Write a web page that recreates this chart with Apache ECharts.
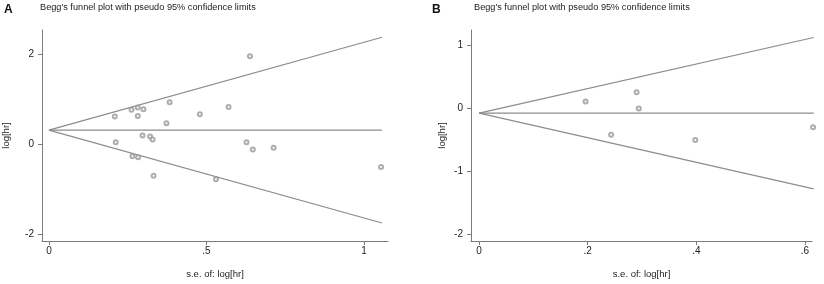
<!DOCTYPE html>
<html>
<head>
<meta charset="utf-8">
<script src="https://cdn.jsdelivr.net/npm/echarts@6/dist/echarts.min.js"></script>
<style>
  html, body { margin: 0; padding: 0; background: #fff; }
  #chart { width: 824px; height: 284px; }
</style>
</head>
<body>
<div id="chart"></div>
<script>
// Panel A: s.e. of log[hr] vs log[hr]
const seA = [0.638, 0.383, 0.570, 0.262, 0.282, 0.300, 0.209, 0.282, 0.479, 0.373, 0.297,
             0.321, 0.329, 0.212, 0.627, 0.647, 0.713, 1.054, 0.265, 0.283, 0.332, 0.530];
const logHrA = [1.95, 0.93, 0.82, 0.76, 0.81, 0.77, 0.61, 0.62, 0.66, 0.46, 0.19,
                0.17, 0.10, 0.04, 0.04, -0.12, -0.08, -0.51, -0.27, -0.29, -0.70, -0.78];
// funnel lines A (se endpoints, and log[hr] at those endpoints)
const funnelSeA = [0, 1.057];
const centerA = [0.31, 0.31];
const upperA = [0.31, 2.37];
const lowerA = [0.31, -1.75];
const xTicksA = [0, 0.5, 1];
const yTicksA = [-2, 0, 2];

// Panel B
const seB = [0.196, 0.290, 0.294, 0.243, 0.398, 0.615];
const logHrB = [0.11, 0.26, 0.00, -0.42, -0.50, -0.30];
const funnelSeB = [0, 0.616];
const centerB = [-0.074, -0.074];
const upperB = [-0.074, 1.13];
const lowerB = [-0.074, -1.28];
const xTicksB = [0, 0.2, 0.4, 0.6];
const yTicksB = [-2, -1, 0, 1];

const titleText = "Begg's funnel plot with pseudo 95% confidence limits";
const lineGray = '#8c8c8c';
const axisGray = '#7a7a7a';
const textColor = '#222';
const font = 'Liberation Sans, Arial, sans-serif';

function fmt(v) {
  if (v === 0) return '0';
  let s = String(v);
  return s.replace(/^0\./, '.').replace(/^-0\./, '-.');
}
function pairs(xs, ys) { return xs.map((x, i) => [x, ys[i]]); }

function xAxisCfg(idx, min, max, ticks) {
  return {
    gridIndex: idx, type: 'value', min: min, max: max,
    name: 's.e. of: log[hr]', nameLocation: 'middle', nameGap: 28,
    nameTextStyle: { fontSize: 9.5, color: textColor, fontFamily: font },
    axisLine: { onZero: false, lineStyle: { color: axisGray, width: 1 } },
    axisTick: { show: true, length: 4, lineStyle: { color: axisGray }, customValues: ticks },
    axisLabel: { fontSize: 10, color: textColor, fontFamily: font, margin: 5,
                 customValues: ticks, formatter: fmt },
    splitLine: { show: false }
  };
}
function yAxisCfg(idx, min, max, ticks, gap) {
  return {
    gridIndex: idx, type: 'value', min: min, max: max,
    name: 'log[hr]', nameLocation: 'middle', nameGap: gap, nameRotate: 90,
    nameTextStyle: { fontSize: 9.5, color: textColor, fontFamily: font },
    axisLine: { show: true, onZero: false, lineStyle: { color: axisGray, width: 1 } },
    axisTick: { show: true, length: 4, lineStyle: { color: axisGray }, customValues: ticks },
    axisLabel: { fontSize: 10, color: textColor, fontFamily: font, margin: 8,
                 customValues: ticks, formatter: fmt },
    splitLine: { show: false }
  };
}
function lineSeries(idx, xs, ys) {
  return {
    type: 'line', xAxisIndex: idx, yAxisIndex: idx, data: pairs(xs, ys),
    symbol: 'none', silent: true, animation: false,
    lineStyle: { color: lineGray, width: 1.2 }
  };
}
function dotSeries(idx, xs, ys) {
  return {
    type: 'scatter', xAxisIndex: idx, yAxisIndex: idx, data: pairs(xs, ys),
    symbol: 'emptyCircle', symbolSize: 4, animation: false, z: 5, clip: false,
    itemStyle: { color: '#999', borderWidth: 0.8 }
  };
}

const myChart = echarts.init(document.getElementById('chart'));
const option = {
  backgroundColor: '#fff',
  animation: false,
  title: [
    { text: 'A', left: -1, top: -1, textStyle: { fontSize: 12, fontWeight: 'bold', color: '#111', fontFamily: font } },
    { text: titleText, left: 35, top: -2, textStyle: { fontSize: 9.2, fontWeight: 'normal', color: textColor, fontFamily: font } },
    { text: 'B', left: 427, top: -1, textStyle: { fontSize: 12, fontWeight: 'bold', color: '#111', fontFamily: font } },
    { text: titleText, left: 469, top: -2, textStyle: { fontSize: 9.2, fontWeight: 'normal', color: textColor, fontFamily: font } }
  ],
  grid: [
    { left: 40, top: 30, width: 348, height: 214 },
    { left: 471, top: 30, width: 341, height: 214 }
  ],
  xAxis: [
    xAxisCfg(0, -0.022, 1.076, xTicksA),
    xAxisCfg(1, -0.015, 0.613, xTicksB)
  ],
  yAxis: [
    yAxisCfg(0, -2.15, 2.53, yTicksA, 31),
    yAxisCfg(1, -2.11, 1.25, yTicksB, 24)
  ],
  series: [
    lineSeries(0, funnelSeA, centerA),
    lineSeries(0, funnelSeA, upperA),
    lineSeries(0, funnelSeA, lowerA),
    dotSeries(0, seA, logHrA),
    lineSeries(1, funnelSeB, centerB),
    lineSeries(1, funnelSeB, upperB),
    lineSeries(1, funnelSeB, lowerB),
    dotSeries(1, seB, logHrB)
  ]
};
myChart.setOption(option);
</script>
</body>
</html>
